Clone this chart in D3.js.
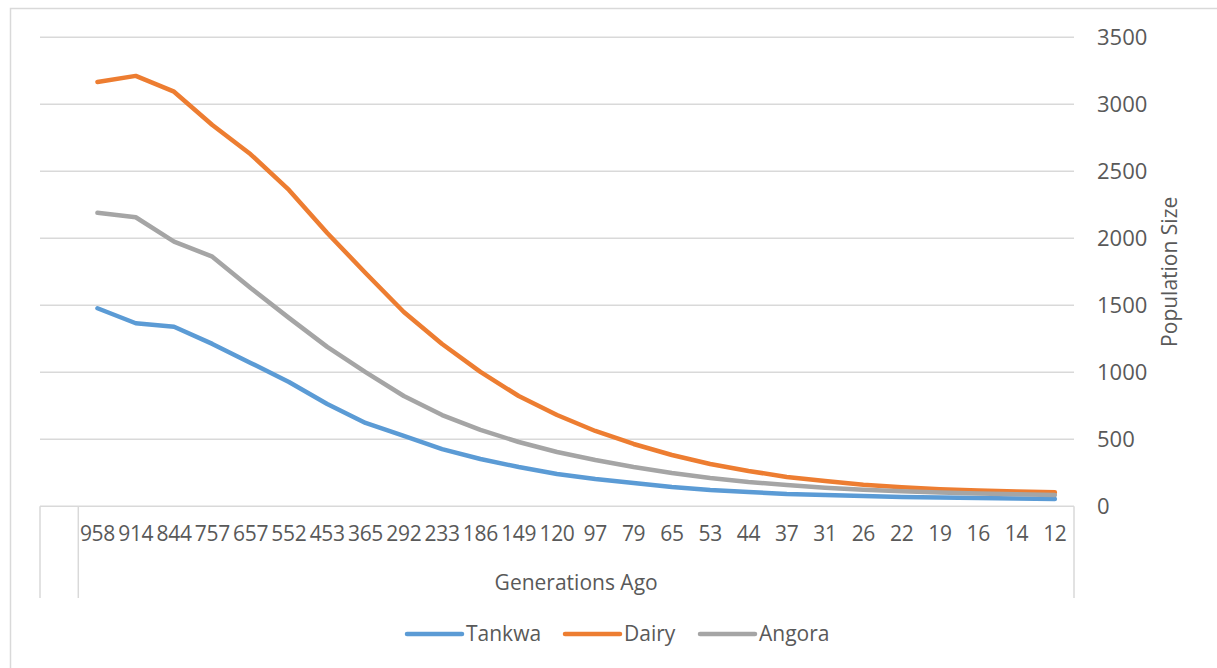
<!DOCTYPE html>
<html>
<head>
<meta charset="utf-8">
<script src="https://cdn.jsdelivr.net/npm/d3@7"></script>
<style>
  html, body { margin: 0; padding: 0; background: #fff; }
  svg { display: block; font-family: "Open Sans", "Noto Sans", sans-serif; }
</style>
</head>
<body>
<svg id="chart" width="1217" height="668"></svg>
<script>
// Generations before present (first slot of the axis is left blank)
const generations = ["958","914","844","757","657","552","453","365","292","233","186","149","120","97","79","65","53","44","37","31","26","22","19","16","14","12"];

// Effective population size per breed
const tankwa = [1478,1366,1340,1212,1070,928,764,622,525,427,353,293,241,204,174,144,122,107,92,84,77,69,66,62,58,54];
const dairy  = [3167,3212,3094,2846,2627,2361,2040,1741,1450,1211,1003,823,681,562,465,383,316,264,219,189,161,142,128,118,110,104];
const angora = [2191,2157,1975,1863,1629,1406,1190,1002,823,681,570,480,405,345,293,248,211,181,159,139,124,112,103,96,90,85];

const yTicks = [0,500,1000,1500,2000,2500,3000,3500];

const seriesList = [
  { name: "Tankwa", values: tankwa, color: "#5b9bd5" },
  { name: "Dairy",  values: dairy,  color: "#ed7d31" },
  { name: "Angora", values: angora, color: "#a5a5a5" }
];

const svg = d3.select("#chart");
const gridColor = "#d9d9d9";
const textColor = "#595959";

const plot = { left: 40, right: 1074, top: 37.3, bottom: 506.3 };

// Outer chart frame
svg.append("rect")
  .attr("x", 10.5).attr("y", 8.5)
  .attr("width", 1240).attr("height", 700)
  .attr("fill", "none").attr("stroke", gridColor).attr("stroke-width", 1.5);

const categories = [""].concat(generations);
const x = d3.scaleBand().domain(categories).range([plot.left, plot.right]).padding(0);
const y = d3.scaleLinear().domain([0, 3500]).range([plot.bottom, plot.top]);

// Horizontal gridlines
svg.append("g").selectAll("line")
  .data(yTicks.filter(t => t > 0))
  .join("line")
  .attr("x1", plot.left).attr("x2", plot.right)
  .attr("y1", d => y(d)).attr("y2", d => y(d))
  .attr("stroke", gridColor).attr("stroke-width", 1.5);

// Value axis on the right
const yAxis = svg.append("g")
  .attr("transform", `translate(${plot.right},0)`)
  .call(d3.axisRight(y).tickValues(yTicks).tickFormat(d3.format("d")).tickSize(0).tickPadding(23));
yAxis.select(".domain").remove();
yAxis.selectAll("text")
  .attr("fill", textColor)
  .style("font-size", "22px")
  .style("font-family", "'Open Sans', sans-serif");

svg.append("text")
  .attr("transform", `translate(1177,${(plot.top + plot.bottom) / 2}) rotate(-90)`)
  .attr("text-anchor", "middle")
  .attr("fill", textColor)
  .style("font-size", "21px")
  .text("Population Size");

// Category axis: baseline plus two-level label box
const boxBottom = 598;
svg.append("line")
  .attr("x1", plot.left).attr("x2", plot.right)
  .attr("y1", plot.bottom).attr("y2", plot.bottom)
  .attr("stroke", gridColor).attr("stroke-width", 1.5);

const dividers = [plot.left, x(generations[0]), plot.right];
svg.append("g").selectAll("line")
  .data(dividers)
  .join("line")
  .attr("x1", d => d).attr("x2", d => d)
  .attr("y1", plot.bottom).attr("y2", boxBottom)
  .attr("stroke", gridColor).attr("stroke-width", 1.5);

const xAxis = svg.append("g")
  .attr("transform", `translate(0,${plot.bottom})`)
  .call(d3.axisBottom(x).tickValues(generations).tickSize(0).tickPadding(20));
xAxis.select(".domain").remove();
xAxis.selectAll("text")
  .attr("fill", textColor)
  .style("font-size", "21px")
  .style("letter-spacing", "-0.3px")
  .style("font-family", "'Open Sans', sans-serif");

svg.append("text")
  .attr("x", (x(generations[0]) + plot.right) / 2)
  .attr("y", 583)
  .attr("dy", "0.35em")
  .attr("text-anchor", "middle")
  .attr("fill", textColor)
  .style("font-size", "21px")
  .text("Generations Ago");

// Series lines
const line = d3.line()
  .x((d, i) => x(generations[i]) + x.bandwidth() / 2)
  .y(d => y(d));

svg.append("g").selectAll("path")
  .data(seriesList)
  .join("path")
  .attr("d", d => line(d.values))
  .attr("fill", "none")
  .attr("stroke", d => d.color)
  .attr("stroke-width", 4.5)
  .attr("stroke-linejoin", "round")
  .attr("stroke-linecap", "round");

// Legend
const legendItems = [
  { x: 407 }, { x: 565 }, { x: 700 }
];
const legend = svg.append("g").selectAll("g")
  .data(seriesList)
  .join("g")
  .attr("transform", (d, i) => `translate(${legendItems[i].x},634)`);
legend.append("line")
  .attr("x1", 0).attr("x2", 55)
  .attr("stroke", d => d.color)
  .attr("stroke-width", 4.5)
  .attr("stroke-linecap", "round");
legend.append("text")
  .attr("x", 59)
  .attr("dy", "0.35em")
  .attr("fill", textColor)
  .style("font-size", "21px")
  .text(d => d.name);
</script>
</body>
</html>
